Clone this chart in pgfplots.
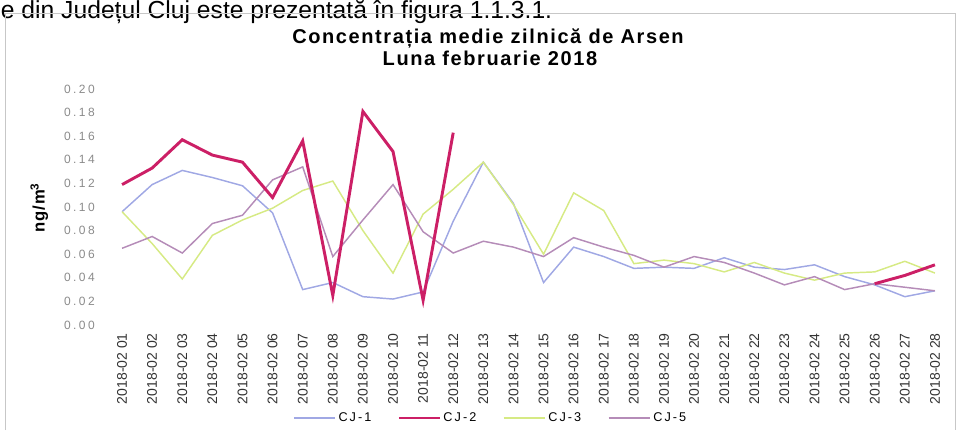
\documentclass[border=0pt]{standalone}
\usepackage{fontspec}
\setmainfont{Liberation Sans}
\usepackage{pgfplots}
\pgfplotsset{compat=1.18}
\newfontfamily\tickfont[LetterSpace=20]{Liberation Sans}
\newfontfamily\titlefont[LetterSpace=8]{Liberation Sans}
\newfontfamily\legfont[LetterSpace=16]{Liberation Sans}
\newfontfamily\labfont[LetterSpace=6]{Liberation Sans}
\definecolor{cjone}{HTML}{A0A8E4}
\definecolor{cjtwo}{HTML}{CC1F66}
\definecolor{cjthree}{HTML}{D6EA84}
\definecolor{cjfive}{HTML}{B58CB8}
\definecolor{ticktxt}{HTML}{8A8A8A}
\begin{document}
\begin{tikzpicture}
\useasboundingbox (0,0) rectangle (718.5pt,322.5pt);
% page text above the chart
\node[anchor=base west, inner sep=0pt, font=\fontsize{18.5}{20}\selectfont] at (0.5pt,308.5pt) {e din Județul Cluj este prezentată în figura 1.1.3.1.};
% chart frame
\draw[black!22, line width=0.6pt] (3.75pt,0pt) -- (3.75pt,312.75pt) -- (716.5pt,312.75pt) -- (716.5pt,0pt);
% title
\node[font=\titlefont\bfseries\fontsize{15}{17}\selectfont, inner sep=0pt] at (366pt,294pt) {Concentrația medie zilnică de Arsen};
\node[font=\titlefont\bfseries\fontsize{15}{17}\selectfont, inner sep=0pt] at (367.5pt,279pt) {Luna februarie 2018};
% y label
\node[rotate=90, font=\labfont\bfseries\fontsize{12.5}{14}\selectfont, inner sep=0pt] at (29.5pt,166.5pt) {ng/m\textsuperscript{3}};
\begin{axis}[
  at={(80.25pt,78.75pt)}, anchor=south west,
  scale only axis, width=632.25pt, height=177pt,
  xmin=-0.5, xmax=27.5, ymin=0, ymax=0.2,
  axis line style={draw=none},
  major tick length=0pt,
  xtick={0,...,27},
  xticklabels={2018-02 01,2018-02 02,2018-02 03,2018-02 04,2018-02 05,2018-02 06,2018-02 07,2018-02 08,2018-02 09,2018-02 10,2018-02 11,2018-02 12,2018-02 13,2018-02 14,2018-02 15,2018-02 16,2018-02 17,2018-02 18,2018-02 19,2018-02 20,2018-02 21,2018-02 22,2018-02 23,2018-02 24,2018-02 25,2018-02 26,2018-02 27,2018-02 28},
  xticklabel style={rotate=90, anchor=east, inner sep=0pt, xshift=-6pt, font=\fontsize{10.5}{12}\selectfont, text=black!80},
  ytick={0,0.02,0.04,0.06,0.08,0.1,0.12,0.14,0.16,0.18,0.2},
  yticklabel style={anchor=east, inner sep=0pt, xshift=-9pt, font=\tickfont\fontsize{9}{10}\selectfont, text=ticktxt,
    /pgf/number format/.cd, fixed, fixed zerofill, precision=2, assume math mode=true},
  legend style={at={(0.4555,-0.394)}, anchor=center, draw=none, fill=none,
    legend columns=4, font=\legfont\fontsize{9.5}{11}\selectfont,
    /tikz/every even column/.append style={column sep=18pt}},
  legend image code/.code={\draw[#1] (0pt,0pt) -- (31pt,0pt);},
  legend cell align=left,
]
% CJ-1
\addplot[cjone, line width=1.1pt, forget plot] coordinates {
(0,0.096) (1,0.119) (2,0.131) (3,0.125) (4,0.118) (5,0.095) (6,0.030) (7,0.036)
(8,0.024) (9,0.022) (10,0.028) (11,0.088) (12,0.138) (13,0.103) (14,0.036) (15,0.066)
(16,0.058) (17,0.048) (18,0.049) (19,0.048) (20,0.057) (21,0.049) (22,0.047) (23,0.051)
(24,0.041) (25,0.034) (26,0.024) (27,0.029)};
% CJ-3
\addplot[cjthree, line width=1.1pt, forget plot] coordinates {
(0,0.096) (1,0.069) (2,0.039) (3,0.076) (4,0.089) (5,0.099) (6,0.114) (7,0.122)
(8,0.080) (9,0.044) (10,0.094) (11,0.115) (12,0.138) (13,0.102) (14,0.060) (15,0.112)
(16,0.097) (17,0.052) (18,0.055) (19,0.052) (20,0.045) (21,0.053) (22,0.044) (23,0.038)
(24,0.044) (25,0.045) (26,0.054) (27,0.044)};
% CJ-5
\addplot[cjfive, line width=1.1pt, forget plot] coordinates {
(0,0.065) (1,0.075) (2,0.061) (3,0.086) (4,0.093) (5,0.123) (6,0.134) (7,0.058)
(8,0.089) (9,0.119) (10,0.079) (11,0.061) (12,0.071) (13,0.066) (14,0.058) (15,0.074)
(16,0.066) (17,0.059) (18,0.049) (19,0.058) (20,0.053) (21,0.044) (22,0.034) (23,0.041)
(24,0.030) (25,0.035) (26,0.032) (27,0.029)};
% CJ-2
\addplot[cjtwo, line width=2.2pt, forget plot] coordinates {
(0,0.119) (1,0.133) (2,0.157) (3,0.144) (4,0.138) (5,0.108) (6,0.156) (7,0.025)
(8,0.181) (9,0.147) (10,0.021) (11,0.163)};
\addplot[cjtwo, line width=2.2pt, forget plot] coordinates {
(25,0.035) (26,0.042) (27,0.051)};
\addlegendimage{cjone, line width=1.1pt}\addlegendentry{CJ-1}
\addlegendimage{cjtwo, line width=1.1pt}\addlegendentry{CJ-2}
\addlegendimage{cjthree, line width=1.1pt}\addlegendentry{CJ-3}
\addlegendimage{cjfive, line width=1.1pt}\addlegendentry{CJ-5}
\end{axis}
\end{tikzpicture}
\end{document}
